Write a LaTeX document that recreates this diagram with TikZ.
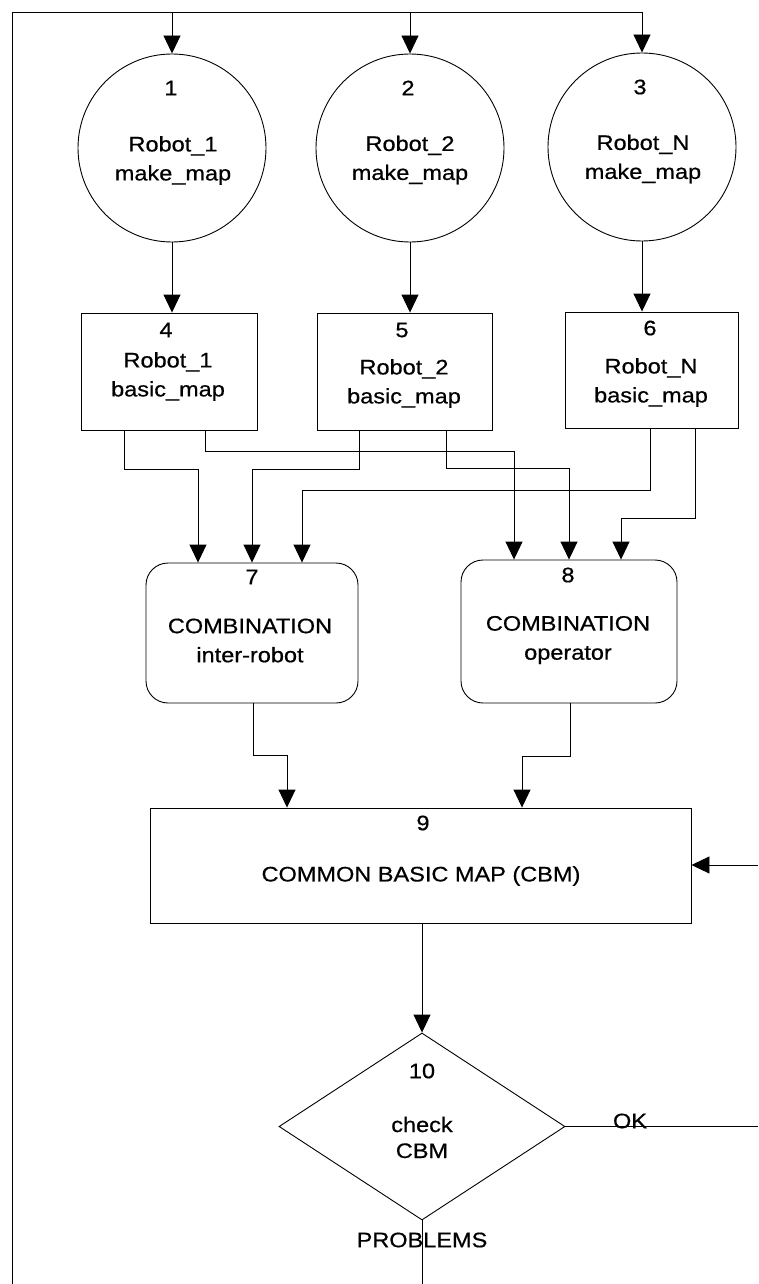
\documentclass[tikz,border=0pt]{standalone}
\usepackage{fontspec}
\setmainfont{Liberation Sans}[FakeStretch=1.12,FakeBold=0.6]
\usetikzlibrary{arrows.meta,shapes.geometric}
\begin{document}
\begin{tikzpicture}[x=1pt,y=-1pt,
  every node/.style={font=\fontsize{21}{29}\selectfont, inner sep=0pt},
  ln/.style={line width=0.9pt},
  arr/.style={ln,-{Triangle[length=18pt,width=17pt]}},
  shp/.style={draw, line width=0.9pt},
  lbl/.style={align=center},
  robot/.style={shp, circle, minimum size=188pt},
  mapbox/.style={shp, rectangle},
  combo/.style={shp, rectangle, rounded corners=22pt},
]
\useasboundingbox (0,0) rectangle (758,1284);

% robots building their own maps
\node[robot] (c1) at (172,148) {};
\node[robot] (c2) at (410,148) {};
\node[robot] (c3) at (642,147) {};
\node (n1) at (171,88) {1};
\node (n2) at (408,88) {2};
\node (n3) at (640,87) {3};
\node[lbl] (t1) at (173,160.5) {Robot\_1\\make\_map};
\node[lbl] (t2) at (410,160) {Robot\_2\\make\_map};
\node[lbl] (t3) at (643,159) {Robot\_N\\make\_map};

% basic maps
\node[mapbox, minimum width=176pt, minimum height=117pt] (b4) at (169,371.5) {};
\node[mapbox, minimum width=175pt, minimum height=117pt] (b5) at (404.5,371.5) {};
\node[mapbox, minimum width=173pt, minimum height=116pt] (b6) at (651.5,370) {};
\node (n4) at (166,330) {4};
\node (n5) at (402,330) {5};
\node (n6) at (650,328) {6};
\node[lbl] (t4) at (168,376.5) {Robot\_1\\basic\_map};
\node[lbl] (t5) at (404,383.5) {Robot\_2\\basic\_map};
\node[lbl] (t6) at (651,382.5) {Robot\_N\\basic\_map};

% combination stages
\node[combo, minimum width=212pt, minimum height=140pt] (b7) at (252,633) {};
\node[combo, minimum width=216pt, minimum height=143pt] (b8) at (569,631.5) {};
\node (n7) at (252,577) {7};
\node (n8) at (568,575) {8};
\node[lbl] (t7) at (250,640.5) {COMBINATION\\inter-robot};
\node[lbl] (t8) at (568,640) {COMBINATION\\operator};

% common map
\node[mapbox, minimum width=541pt, minimum height=115pt] (b9) at (420.5,865.5) {};
\node (n9) at (423,823) {9};
\node (t9) at (421,876) {COMMON BASIC MAP (CBM)};

% check
\node[shp, diamond, minimum width=286pt, minimum height=187pt] (d) at (422,1126.5) {};
\node (n10) at (422,1071) {10};
\node[lbl] (t10) at (422,1137.5) {check\\[-3pt]CBM};
\node (ok) at (630,1121) {OK};
\node (pb) at (422,1240) {PROBLEMS};

% feedback loop feeding the robots
\coordinate (lb) at (12,1284);
\coordinate (lt) at (12,12);
\coordinate (rin) at (758,865);
\coordinate (rok) at (758,1126.5);
\draw[ln] (lb) -- (lt) -- (lt -| c3.north);
\draw[arr] (lt -| c1.north) -- (c1.north);
\draw[arr] (lt -| c2.north) -- (c2.north);
\draw[arr] (lt -| c3.north) -- (c3.north);

\draw[arr] (c1.south) -- (c1.south |- b4.north);
\draw[arr] (c2.south) -- (c2.south |- b5.north);
\draw[arr] (c3.south) -- (c3.south |- b6.north);

% basic maps to the combinations
\draw[arr] ([xshift=-45pt]b4.south) -- ++(0,39) -| ([xshift=-54pt]b7.north);
\draw[arr] ([xshift=36pt]b4.south) -- ++(0,21) -| ([xshift=-55pt]b8.north);
\draw[arr] ([xshift=-45.5pt]b5.south) -- ++(0,39) -| ([xshift=0pt]b7.north);
\draw[arr] ([xshift=41.5pt]b5.south) -- ++(0,38) -| ([xshift=0pt]b8.north);
\draw[arr] ([xshift=-1.5pt]b6.south) -- ++(0,62) -| ([xshift=50pt]b7.north);
\draw[arr] ([xshift=43.5pt]b6.south) -- ++(0,90) -| ([xshift=52pt]b8.north);

% combinations to the common map
\draw[arr] ([xshift=1pt]b7.south) -- ++(0,52) -| ([xshift=-133.5pt]b9.north);
\draw[arr] ([xshift=1pt]b8.south) -- ++(0,53) -| ([xshift=101.5pt]b9.north);
\draw[arr] (rin) -- (rin -| b9.east);

\draw[arr] (b9.south -| d.north) -- (d.north);
\draw[ln] (d.east) -- (rok);
\draw[ln] (d.south) -- (d.south |- lb);
\end{tikzpicture}
\end{document}
